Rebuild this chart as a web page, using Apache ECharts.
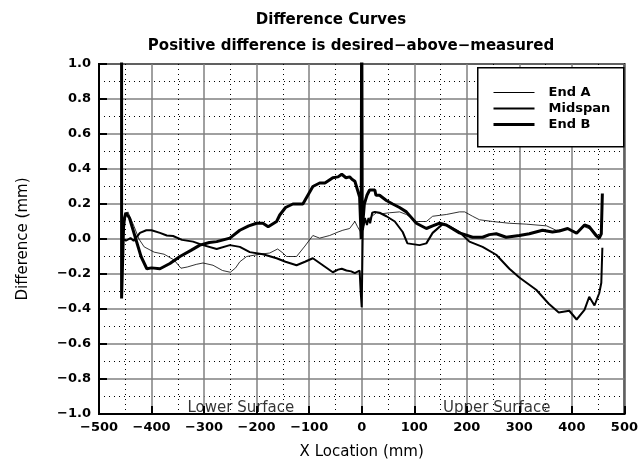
<!DOCTYPE html>
<html>
<head>
<meta charset="utf-8">
<script src="https://cdn.jsdelivr.net/npm/echarts@6/dist/echarts.min.js"></script>
<style>html,body{margin:0;padding:0;background:#fff}#c{width:641px;height:466px}</style>
</head>
<body>
<div id="c"></div>
<script>
var seriesNames = ['End A', 'Midspan', 'End B'];
var seriesWidths = [0.8, 2, 3];
var xTicks = [-500, -400, -300, -200, -100, 0, 100, 200, 300, 400, 500];
var yTicks = [-1.0, -0.8, -0.6, -0.4, -0.2, 0.0, 0.2, 0.4, 0.6, 0.8, 1.0];
var regionLabels = [[-230, -0.965, 'Lower Surface'], [257, -0.965, 'Upper Surface']];

var endA = [[-454,0.0],[-449,0.13],[-445,0.155],[-440,0.12],[-433,0.07],[-424,0.0],[-414,-0.045],[-395,-0.075],[-376,-0.087],[-357,-0.12],[-344,-0.167],[-332,-0.16],[-315,-0.145],[-302,-0.137],[-283,-0.15],[-265,-0.18],[-250,-0.19],[-240,-0.165],[-232,-0.13],[-219,-0.1],[-194,-0.087],[-175,-0.08],[-160,-0.057],[-150,-0.08],[-143,-0.1],[-124,-0.1],[-108,-0.04],[-93,0.02],[-80,0.005],[-61,0.02],[-45,0.04],[-36,0.05],[-23,0.06],[-13,0.1],[-8,0.07],[-4,0.05],[0,0.03],[5,0.09],[15,0.12],[28,0.15],[40,0.145],[53,0.15],[72,0.155],[85,0.14],[95,0.12],[104,0.1],[123,0.1],[135,0.13],[161,0.14],[186,0.155],[196,0.155],[211,0.13],[224,0.11],[249,0.1],[281,0.09],[313,0.085],[352,0.075],[370,0.05],[392,0.055],[410,0.04],[424,0.07],[440,0.05],[452,0.01]];

var midspan = [[-455,0.0],[-449,-0.01],[-440,0.005],[-434,-0.01],[-422,0.035],[-410,0.05],[-400,0.05],[-384,0.035],[-371,0.02],[-359,0.017],[-342,-0.005],[-321,-0.015],[-302,-0.035],[-276,-0.057],[-251,-0.035],[-232,-0.045],[-213,-0.075],[-188,-0.087],[-162,-0.11],[-145,-0.13],[-124,-0.15],[-108,-0.13],[-93,-0.11],[-74,-0.15],[-55,-0.19],[-45,-0.175],[-38,-0.17],[-29,-0.18],[-20,-0.185],[-13,-0.195],[-4,-0.18],[-2,-0.3],[0,-0.39],[2,0.05],[6,0.12],[10,0.08],[13,0.12],[16,0.09],[20,0.15],[25,0.155],[34,0.15],[47,0.13],[63,0.1],[78,0.04],[87,-0.025],[110,-0.035],[123,-0.025],[135,0.035],[154,0.085],[165,0.075],[186,0.04],[205,-0.015],[230,-0.045],[256,-0.09],[281,-0.17],[300,-0.22],[332,-0.29],[356,-0.37],[375,-0.42],[395,-0.41],[409,-0.46],[424,-0.405],[433,-0.33],[443,-0.38],[452,-0.31],[456,-0.25],[458,-0.05]];

var endB = [[-457,1.5],[-457,-0.34],[-453,0.1],[-449,0.15],[-446,0.16],[-442,0.12],[-430,0.0],[-420,-0.1],[-409,-0.17],[-400,-0.165],[-384,-0.17],[-365,-0.14],[-346,-0.1],[-325,-0.065],[-308,-0.035],[-290,-0.02],[-276,-0.015],[-251,0.005],[-232,0.05],[-215,0.075],[-200,0.09],[-188,0.09],[-178,0.07],[-162,0.1],[-156,0.137],[-145,0.18],[-131,0.2],[-112,0.2],[-93,0.3],[-80,0.32],[-70,0.32],[-55,0.35],[-45,0.355],[-38,0.37],[-30,0.35],[-23,0.355],[-18,0.34],[-13,0.33],[-4,0.24],[-1,0.0],[0,1.5],[1,0.05],[5,0.2],[10,0.25],[15,0.28],[25,0.28],[27,0.25],[34,0.25],[47,0.22],[59,0.2],[72,0.18],[85,0.155],[104,0.09],[123,0.06],[135,0.075],[148,0.09],[161,0.08],[186,0.035],[211,0.01],[230,0.01],[243,0.025],[256,0.03],[275,0.01],[300,0.02],[319,0.03],[344,0.05],[363,0.04],[376,0.046],[392,0.06],[409,0.033],[424,0.08],[433,0.07],[446,0.02],[452,0.005],[456,0.03],[458,0.26]];

var FONT = 'DejaVu Sans';
function fmtY(v){ var s = Math.abs(v).toFixed(1); return (v < -1e-9 ? '\u2212' : '') + s; }
function fmtX(v){ return (v < 0 ? '\u2212' : '') + Math.abs(v); }

var legendData = seriesNames.map(function(n, i){
  return {name: n, lineStyle: {width: seriesWidths[i] < 1 ? 1 : seriesWidths[i], color: '#000'}};
});

var chart = echarts.init(document.getElementById('c'));
chart.setOption({
  animation: false,
  backgroundColor: '#fff',
  title: [
    {text: 'Difference Curves', left: 326, top: 8, textAlign: 'center',
     textStyle: {fontFamily: FONT, fontSize: 15, fontWeight: 'bold', color: '#000'}},
    {text: 'Positive difference is desired\u2212above\u2212measured', left: 346, top: 34, textAlign: 'center',
     textStyle: {fontFamily: FONT, fontSize: 15, fontWeight: 'bold', color: '#000'}}
  ],
  graphic: [
    {type: 'rect', left: 477, top: 67, z: 6, silent: true,
     shape: {width: 146, height: 79},
     style: {fill: '#fff', stroke: '#000', lineWidth: 1.5}}
  ],
  legend: {
    data: legendData,
    orient: 'vertical',
    left: 477, top: 67, z: 7,
    padding: [19, 8, 13, 15],
    itemGap: 3,
    itemWidth: 41, itemHeight: 14,
    itemStyle: {opacity: 0},
    textStyle: {fontFamily: FONT, fontSize: 13, fontWeight: 'bold', color: '#000', padding: [0,0,0,9]}
  },
  grid: {left: 99, right: 16, top: 64, bottom: 52, show: true, borderColor: '#000', borderWidth: 2, backgroundColor: 'transparent'},
  xAxis: {
    type: 'value', min: -500, max: 500, interval: 100,
    name: 'X Location (mm)', nameLocation: 'middle', nameGap: 31,
    nameTextStyle: {fontFamily: FONT, fontSize: 15, color: '#000'},
    axisLine: {show: true, onZero: false, lineStyle: {color: '#000', width: 2}},
    axisTick: {show: true, inside: true, length: 8, lineStyle: {color: '#000', width: 2}},
    minorTick: {show: false, splitNumber: 2},
    axisLabel: {fontFamily: FONT, fontSize: 13, fontWeight: 'bold', color: '#000', margin: 7, formatter: fmtX},
    splitLine: {show: true, lineStyle: {color: '#808080', width: 1.5}},
    minorSplitLine: {show: true, lineStyle: {color: '#000', width: 1, type: [1, 4]}}
  },
  yAxis: {
    type: 'value', min: -1, max: 1, interval: 0.2,
    name: 'Difference (mm)', nameLocation: 'middle', nameGap: 68,
    nameTextStyle: {fontFamily: FONT, fontSize: 15, color: '#000'},
    axisLine: {show: true, onZero: false, lineStyle: {color: '#000', width: 2}},
    axisTick: {show: true, inside: true, length: 8, lineStyle: {color: '#000', width: 2}},
    minorTick: {show: false, splitNumber: 2},
    axisLabel: {fontFamily: FONT, fontSize: 13, fontWeight: 'bold', color: '#000', margin: 8, formatter: fmtY},
    splitLine: {show: true, lineStyle: {color: '#808080', width: 1.5}},
    minorSplitLine: {show: true, lineStyle: {color: '#000', width: 1, type: [1, 4]}}
  },
  series: [
    {name: 'End A', type: 'line', data: endA, showSymbol: false, symbol: 'none', clip: true,
     lineStyle: {color: '#000', width: seriesWidths[0]}, itemStyle: {color: '#000'}, z: 3},
    {name: 'Midspan', type: 'line', data: midspan, showSymbol: false, symbol: 'none', clip: true,
     lineStyle: {color: '#000', width: seriesWidths[1]}, itemStyle: {color: '#000'}, z: 4},
    {name: 'End B', type: 'line', data: endB, showSymbol: false, symbol: 'none', clip: true,
     lineStyle: {color: '#000', width: seriesWidths[2]}, itemStyle: {color: '#000'}, z: 5},
    {name: 'regions', type: 'scatter', data: regionLabels, symbolSize: 0, silent: true,
     label: {show: true, position: 'inside', formatter: function(p){return p.data[2];},
       fontFamily: FONT, fontSize: 15, color: '#000'}}
  ]
});
</script>
</body>
</html>
